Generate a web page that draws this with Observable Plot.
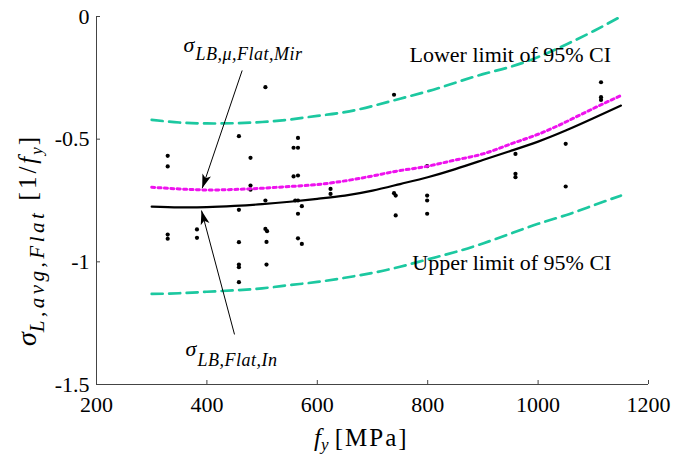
<!DOCTYPE html>
<html><head><meta charset="utf-8">
<script src="https://cdn.jsdelivr.net/npm/d3@7"></script>
<script src="https://cdn.jsdelivr.net/npm/@observablehq/plot@0.6"></script>
<style>
body{margin:0;background:#fff}
svg text{font-family:"Liberation Serif","Times New Roman",serif !important;}
</style>
</head><body><div id="chart"></div>
<script>
// ---- data ----
const fyPts = [329,329,329,329, 382,382, 458,458,458,458,458,458, 479,479,479, 506,506,506,509,508,508,
  557,557, 565,565,565,565,565,565, 560, 572,572, 624,624, 739,739,742,742, 799,799,799,799, 959,959,959, 1050,1050, 1114,1114,1114];
const sigPts = [-0.568,-0.611,-0.889,-0.906, -0.868,-0.902, -0.488,-0.788,-0.92,-1.011,-1.022,-1.083, -0.576,-0.689,-0.706,
  -0.288,-0.75,-0.866,-0.875,-0.919,-1.011, -0.535,-0.652, -0.495,-0.535,-0.648,-0.75,-0.804,-0.904, -0.75, -0.773,-0.927,
  -0.703,-0.723, -0.319,-0.72,-0.73,-0.811, -0.61,-0.73,-0.75,-0.804, -0.56,-0.641,-0.655, -0.519,-0.693, -0.268,-0.329,-0.34];
const curveFy = [300,350,400,450,500,550,600,650,700,750,800,850,900,950,1000,1050,1100,1150];
const fitIn  = [-0.775,-0.778,-0.777,-0.772,-0.765,-0.755,-0.743,-0.73,-0.71,-0.683,-0.655,-0.622,-0.585,-0.548,-0.51,-0.465,-0.415,-0.363];
const fitMir = [-0.696,-0.703,-0.707,-0.705,-0.70,-0.693,-0.685,-0.67,-0.65,-0.628,-0.61,-0.585,-0.56,-0.52,-0.48,-0.43,-0.375,-0.322];
const ciLow  = [-0.421,-0.432,-0.436,-0.435,-0.43,-0.42,-0.405,-0.39,-0.365,-0.335,-0.305,-0.27,-0.235,-0.205,-0.165,-0.115,-0.06,0.0];
const ciUp   = [-1.131,-1.128,-1.122,-1.116,-1.108,-1.095,-1.082,-1.065,-1.045,-1.02,-0.99,-0.96,-0.925,-0.885,-0.845,-0.81,-0.77,-0.73];
const xTicks = [200,400,600,800,1000,1200];
const yTicks = [0,-0.5,-1,-1.5];
const labelLower = ["Lower limit of 95% CI"];
const labelUpper = ["Upper limit of 95% CI"];
const labelMir = ["LB,\u03bc,Flat,Mir"];
const labelIn = ["LB,Flat,In"];

// ---- layout ----
const W = 686, H = 455, mL = 96, mR = 38, mT = 16, mB = 71;
const serif = "Liberation Serif, Times New Roman, serif";
const green = "#1cc8a0", magenta = "#ee12ee";

// arrows (annotation anchors in data units)
const arrows = [
  {x1: 463.9, y1: -0.220, x2: 391.5, y2: -0.700},
  {x1: 450.0, y1: -1.296, x2: 390.2, y2: -0.791}
];
const sx = x => mL + (x - 200) * (W - mL - mR) / 1000;
const sy = y => mT + (0 - y) * (H - mT - mB) / 1.5;
arrows.forEach(a => {
  const dx = sx(a.x2) - sx(a.x1), dy = sy(a.y2) - sy(a.y1);
  a.rot = Math.atan2(dx, -dy) * 180 / Math.PI;
});
const headSymbol = {draw(ctx) { ctx.moveTo(0, 0); ctx.lineTo(4.5, 14); ctx.lineTo(0, 10.5); ctx.lineTo(-4.5, 14); ctx.closePath(); }};

const plot = Plot.plot({
  width: W, height: H, marginLeft: mL, marginRight: mR, marginTop: mT, marginBottom: mB,
  style: {fontFamily: serif, fontSize: "22px", background: "white", color: "black", overflow: "visible"},
  x: {domain: [200, 1200]},
  y: {domain: [-1.5, 0]},
  marks: [
    Plot.axisX(xTicks, {tickSize: 0, tickPadding: 12, label: null, fontSize: 22, tickFormat: d => String(d)}),
    Plot.axisY(yTicks, {tickSize: 0, tickPadding: 7, label: null, fontSize: 22, tickFormat: d => String(d)}),
    Plot.ruleX(xTicks, {stroke: "#444", strokeWidth: 1, insetTop: H - mT - mB - 4}),
    Plot.ruleY(yTicks, {stroke: "#444", strokeWidth: 1, insetRight: W - mL - mR - 4}),
    Plot.ruleY([-1.5], {stroke: "#444", strokeWidth: 1}),
    Plot.ruleX([200], {stroke: "#444", strokeWidth: 1}),
    Plot.dot(fyPts, {x: d => d, y: (d, i) => sigPts[i], r: 2.1, fill: "black"}),
    Plot.line(curveFy, {x: d => d, y: (d, i) => ciLow[i], curve: "natural", stroke: green, strokeWidth: 2.7, strokeDasharray: "11,6.5"}),
    Plot.line(curveFy, {x: d => d, y: (d, i) => ciUp[i], curve: "natural", stroke: green, strokeWidth: 2.7, strokeDasharray: "11,6.5"}),
    Plot.line(curveFy, {x: d => d, y: (d, i) => fitMir[i], curve: "natural", stroke: magenta, strokeWidth: 3, strokeDasharray: "3,3.4"}),
    Plot.line(curveFy, {x: d => d, y: (d, i) => fitIn[i], curve: "natural", stroke: "black", strokeWidth: 2.2}),
    Plot.link(arrows, {x1: "x1", y1: "y1", x2: "x2", y2: "y2", stroke: "black", strokeWidth: 1}),
    Plot.dot(arrows, {x: "x2", y: "y2", symbol: headSymbol, rotate: "rot", fill: "black", stroke: "none", r: 5}),
    Plot.text(labelLower, {x: 767, y: -0.186, text: d => d, textAnchor: "start", lineAnchor: "bottom", fontSize: 22, fill: "black"}),
    Plot.text(labelUpper, {x: 772, y: -1.033, text: d => d, textAnchor: "start", lineAnchor: "bottom", fontSize: 22, fill: "black"}),
    Plot.text(["\u03c3"], {x: 357.6, y: -0.143, text: d => d, textAnchor: "start", lineAnchor: "bottom", fontSize: 22, fontStyle: "italic", fill: "black"}),
    Plot.text(labelMir, {x: 357.6, y: -0.143, dx: 12, dy: 8, text: d => d, textAnchor: "start", lineAnchor: "bottom", fontSize: 18, fontStyle: "italic", fill: "black"}),
    Plot.text(["\u03c3"], {x: 361.2, y: -1.382, text: d => d, textAnchor: "start", lineAnchor: "bottom", fontSize: 22, fontStyle: "italic", fill: "black"}),
    Plot.text(labelIn, {x: 361.2, y: -1.382, dx: 12, dy: 10, text: d => d, textAnchor: "start", lineAnchor: "bottom", fontSize: 18, fontStyle: "italic", fill: "black"})
  ]
});
document.getElementById("chart").appendChild(plot);

const svg = d3.select(plot);
// looser TeX-like spacing of the subscripts
svg.selectAll("text").filter(function() { return this.textContent === labelMir[0] || this.textContent === labelIn[0]; })
  .attr("letter-spacing", 0.5);

// axis titles with sub-scripts
const xt = svg.append("text").attr("x", 314).attr("y", 446).attr("text-anchor", "start").attr("font-size", 25).attr("fill", "black");
xt.append("tspan").attr("font-style", "italic").text("f");
xt.append("tspan").attr("font-style", "italic").attr("font-size", 17).attr("dy", 4).text("y");
xt.append("tspan").attr("dy", -4).text(" ");
xt.append("tspan").attr("letter-spacing", 2).text("[MPa]");

const yt = svg.append("text").attr("transform", "translate(36,346) rotate(-90)").attr("text-anchor", "start").attr("font-size", 25).attr("fill", "black");
yt.append("tspan").attr("font-style", "italic").attr("font-size", 28).text("\u03c3");
yt.append("tspan").attr("font-style", "italic").attr("font-size", 21).attr("letter-spacing", 3.5).attr("dy", 8).text("L,avg,Flat");
yt.append("tspan").attr("dy", -8).attr("letter-spacing", 3).text(" [1/");
yt.append("tspan").attr("font-style", "italic").attr("letter-spacing", 2).text("f");
yt.append("tspan").attr("font-style", "italic").attr("font-size", 17).attr("dy", 6).attr("letter-spacing", 2).text("y");
yt.append("tspan").attr("dy", -6).text("]");
</script>
</body></html>
